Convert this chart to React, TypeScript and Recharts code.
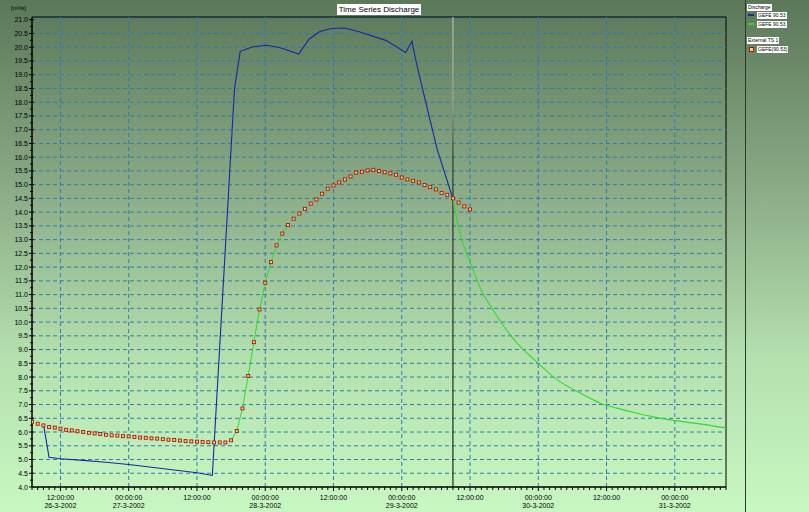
import React from "react";
import {
  ComposedChart,
  Line,
  Scatter,
  XAxis,
  YAxis,
  ReferenceLine,
  ReferenceArea,
} from "recharts";

// hours are counted from 26-3-2002 00:00
const blueHours = [9, 10, 12, 16, 20, 24, 28, 32, 36, 38.7, 42.6, 43.6, 45.7, 48.1, 50.5, 53.9, 55.7, 57.5, 59.5, 62, 64.5, 69.2, 72.7, 73.8, 74.4, 75.5, 78.2, 80.9];
const blueValues = [6.3, 5.08, 5.03, 4.97, 4.9, 4.82, 4.72, 4.62, 4.52, 4.42, 18.5, 19.85, 20.01, 20.07, 19.99, 19.75, 20.29, 20.56, 20.68, 20.7, 20.56, 20.25, 19.81, 20.22, 19.59, 18.62, 16.3, 14.55];

const greenRiseHours = [42, 43, 44, 45, 46, 47, 48, 49, 50, 51, 52];
const greenRiseValues = [5.7, 6.04, 6.86, 8.04, 9.27, 10.46, 11.43, 12.18, 12.79, 13.22, 13.53];

const greenFallHours = [81, 82, 84, 86, 88, 90, 92, 96, 99, 104, 107, 110, 113, 116, 119, 122, 125, 129];
const greenFallValues = [14.5, 13.4, 12.2, 11.15, 10.46, 9.83, 9.3, 8.5, 7.95, 7.35, 7.04, 6.86, 6.7, 6.56, 6.45, 6.36, 6.28, 6.15];

// External TS 1, hourly from 07:00 on 26-3
const externalStartHour = 7;
const externalValues = [
  6.37, 6.3, 6.24, 6.18, 6.16, 6.12, 6.08, 6.06, 6.03, 6.0,
  5.97, 5.95, 5.93, 5.9, 5.88, 5.87, 5.85, 5.84, 5.82, 5.8,
  5.79, 5.77, 5.76, 5.74, 5.72, 5.71, 5.69, 5.67, 5.66, 5.65,
  5.64, 5.63, 5.62, 5.62, 5.62, 5.7, 6.04, 6.86, 8.04, 9.27,
  10.46, 11.43, 12.18, 12.79, 13.22, 13.53, 13.76, 13.95, 14.12, 14.31,
  14.46, 14.67, 14.85, 14.97, 15.08, 15.19, 15.3, 15.44, 15.47, 15.52,
  15.54, 15.5, 15.45, 15.41, 15.36, 15.26, 15.19, 15.14, 15.08, 14.99,
  14.91, 14.83, 14.7, 14.63, 14.5, 14.35, 14.21, 14.1,
];

const nowHour = 81;

const yMajorTicks = [
  4.0, 4.5, 5.0, 5.5, 6.0, 6.5, 7.0, 7.5, 8.0, 8.5, 9.0, 9.5, 10.0, 10.5, 11.0, 11.5, 12.0, 12.5,
  13.0, 13.5, 14.0, 14.5, 15.0, 15.5, 16.0, 16.5, 17.0, 17.5, 18.0, 18.5, 19.0, 19.5, 20.0, 20.5, 21.0,
];
const xMajorHours = [12, 24, 36, 48, 60, 72, 84, 96, 108, 120];
const xTimeLabels = ["12:00:00", "00:00:00", "12:00:00", "00:00:00", "12:00:00", "00:00:00", "12:00:00", "00:00:00", "12:00:00", "00:00:00"];
const xDateLabels = ["26-3-2002", "27-3-2002", "", "28-3-2002", "", "29-3-2002", "", "30-3-2002", "", "31-3-2002"];

const X_MIN = 7;
const X_MAX = 129;

const FONT = "'Liberation Sans', Arial, sans-serif";
const GRID = "#2f7ab8";

const blueData = blueHours.map((t, i) => ({ t, v: blueValues[i] }));
const greenRiseData = greenRiseHours.map((t, i) => ({ t, v: greenRiseValues[i] }));
const greenFallData = greenFallHours.map((t, i) => ({ t, v: greenFallValues[i] }));
const externalData = externalValues.map((v, i) => ({ t: externalStartHour + i, v }));

const yAllTicks = yMajorTicks.flatMap((v) => (v < 21 ? [v, v + 0.25] : [v]));
const xAllTicks: number[] = [];
for (let h = X_MIN; h <= X_MAX; h++) xAllTicks.push(h);

// eslint-disable-next-line @typescript-eslint/no-explicit-any
function YTick({ x, y, payload }: any) {
  const v = payload.value as number;
  const major = Math.abs(v * 2 - Math.round(v * 2)) < 1e-6;
  return (
    <g>
      <line x1={x - (major ? 3 : 2)} x2={x + (major ? 2 : 1)} y1={y} y2={y} stroke="#000" />
      {major && (
        <text x={x - 4} y={y} dy={2.5} textAnchor="end" fontSize={7} fontFamily={FONT} fill="#000">
          {v.toFixed(1)}
        </text>
      )}
    </g>
  );
}

// eslint-disable-next-line @typescript-eslint/no-explicit-any
function XTick({ x, y, payload }: any) {
  const h = payload.value as number;
  const idx = xMajorHours.indexOf(h);
  return (
    <g>
      <line x1={x} x2={x} y1={y} y2={y + (idx >= 0 ? 4 : 3)} stroke="#000" />
      {idx >= 0 && (
        <text x={x} y={y + 13} textAnchor="middle" fontSize={7} fontFamily={FONT} fill="#000">
          {xTimeLabels[idx]}
        </text>
      )}
      {idx >= 0 && xDateLabels[idx] && (
        <text x={x} y={y + 21} textAnchor="middle" fontSize={7} fontFamily={FONT} fill="#000">
          {xDateLabels[idx]}
        </text>
      )}
    </g>
  );
}

// eslint-disable-next-line @typescript-eslint/no-explicit-any
function SquareDot({ cx, cy }: any) {
  return <rect x={cx - 1.5} y={cy - 1.5} width={3} height={3} fill="#f4cf98" stroke="#a81800" strokeWidth={0.9} />;
}

const box: React.CSSProperties = {
  position: "absolute",
  background: "#fff",
  color: "#000",
  fontFamily: FONT,
  whiteSpace: "nowrap",
  lineHeight: 1,
};

export default function App() {
  return (
    <div
      style={{
        position: "absolute",
        left: 0,
        top: 0,
        width: 809,
        height: 512,
        overflow: "hidden",
        background: "linear-gradient(to bottom, #5b7858 0%, #88a884 35%, #b4e0ae 70%, #c8f8c2 100%)",
        fontFamily: FONT,
      }}
    >
      <ComposedChart
        width={745}
        height={512}
        margin={{ top: 17, right: 19, bottom: 0, left: 0 }}
        style={{ position: "absolute", left: 0, top: 0 }}
      >
        <defs>
          <linearGradient id="nowLine" gradientUnits="userSpaceOnUse" x1="0" y1="17" x2="0" y2="487">
            <stop offset="0%" stopColor="#c8c8c8" />
            <stop offset="18%" stopColor="#a8a8a8" />
            <stop offset="30%" stopColor="#202020" />
            <stop offset="100%" stopColor="#000" />
          </linearGradient>
        </defs>
        <XAxis
          dataKey="t"
          type="number"
          domain={[X_MIN, X_MAX]}
          ticks={xAllTicks}
          interval={0}
          allowDataOverflow
          height={25}
          tickSize={0}
          tickMargin={0}
          axisLine={{ stroke: "#000" }}
          tickLine={false}
          tick={<XTick />}
        />
        <YAxis
          type="number"
          domain={[4, 21.1]}
          ticks={yAllTicks}
          interval={0}
          allowDataOverflow
          width={32}
          tickSize={0}
          tickMargin={0}
          axisLine={{ stroke: "#000" }}
          tickLine={false}
          tick={<YTick />}
        />
        {/* dashed grid, one line per labelled tick */}
        {yMajorTicks.slice(1).map((v) => (
          <ReferenceLine key={`gy${v}`} y={v} stroke={GRID} strokeDasharray="4 3" />
        ))}
        {xMajorHours.map((h) => (
          <ReferenceLine key={`gx${h}`} x={h} stroke={GRID} strokeDasharray="4 3" />
        ))}
        <ReferenceArea x1={X_MIN} x2={X_MAX} y1={4} y2={21.1} fill="none" stroke="#000" strokeWidth={1} />
        <ReferenceLine x={nowHour} stroke="url(#nowLine)" strokeWidth={1} />
        <Line
          data={blueData}
          dataKey="v"
          type="linear"
          stroke="#1527a6"
          strokeWidth={1.1}
          dot={false}
          isAnimationActive={false}
        />
        <Line
          data={greenRiseData}
          dataKey="v"
          type="linear"
          stroke="#2edc2e"
          strokeWidth={1}
          dot={false}
          isAnimationActive={false}
        />
        <Line
          data={greenFallData}
          dataKey="v"
          type="monotone"
          stroke="#2edc2e"
          strokeWidth={1.1}
          dot={false}
          isAnimationActive={false}
        />
        <Scatter data={externalData} dataKey="v" shape={<SquareDot />} isAnimationActive={false} />
      </ComposedChart>

      {/* unit and title */}
      <div style={{ position: "absolute", left: 11, top: 5, fontSize: 6, color: "#000", fontFamily: FONT }}>[m³/s]</div>
      <div style={{ ...box, left: 337, top: 4, width: 84, height: 11, fontSize: 8, textAlign: "center", paddingTop: 2, boxSizing: "border-box" }}>
        Time Series Discharge
      </div>

      {/* legend panel */}
      <div style={{ position: "absolute", left: 745, top: 0, width: 1, height: 512, background: "#2a3a2a" }} />
      <div style={{ ...box, left: 747, top: 4, fontSize: 5, padding: "1px 1px" }}>Discharge</div>
      <div style={{ position: "absolute", left: 748, top: 14, width: 6, height: 1.5, background: "#1527a6" }} />
      <div style={{ ...box, left: 757, top: 12, fontSize: 5, padding: "1px 1px" }}>GEFE 90.53</div>
      <div style={{ position: "absolute", left: 748, top: 23, width: 6, height: 1.5, background: "#2edc2e" }} />
      <div style={{ ...box, left: 757, top: 21, fontSize: 5, padding: "1px 1px" }}>GEFE 90.53</div>
      <div style={{ ...box, left: 747, top: 37, fontSize: 5, padding: "1px 1px" }}>External TS 1</div>
      <div style={{ position: "absolute", left: 749, top: 47, width: 3, height: 3, background: "#f4cf98", border: "1px solid #a81800" }} />
      <div style={{ ...box, left: 757, top: 46, fontSize: 5, padding: "1px 1px" }}>GEFE(90.53)</div>
    </div>
  );
}
